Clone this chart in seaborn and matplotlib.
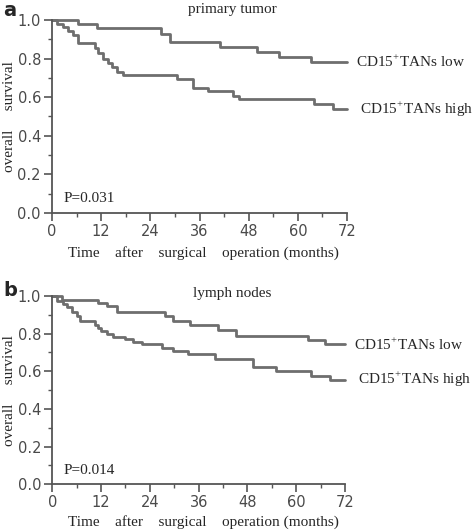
import numpy as np
import pandas as pd
import seaborn as sns
import matplotlib.pyplot as plt
from matplotlib.ticker import MultipleLocator

# step times (months) and survival after each step
a_low_t = [0, 6.4, 11.1, 26.7, 28.8, 41.0, 50.1, 55.4, 63.2, 72]
a_low_s = [1.0, 0.98, 0.957, 0.93, 0.888, 0.862, 0.836, 0.81, 0.784, 0.784]
a_high_t = [0, 1.1, 2.8, 4.0, 5.2, 6.4, 10.5, 11.3, 12.5, 13.7, 14.6, 15.8, 17.4,
            30.4, 34.4, 38.0, 44.2, 45.6, 64.0, 68.5, 72]
a_high_s = [1.0, 0.98, 0.965, 0.945, 0.922, 0.879, 0.853, 0.83, 0.80, 0.775, 0.755,
            0.733, 0.717, 0.693, 0.65, 0.632, 0.605, 0.59, 0.565, 0.539, 0.539]

b_low_t = [0, 2.3, 11.3, 13.4, 15.8, 27.7, 29.7, 33.8, 40.8, 45.3, 62.9, 67.0, 72]
b_low_s = [1.0, 0.978, 0.963, 0.945, 0.915, 0.892, 0.866, 0.845, 0.822, 0.787,
           0.764, 0.744, 0.744]
b_high_t = [0, 1.1, 2.7, 3.5, 4.8, 6.0, 6.8, 10.5, 11.3, 12.1, 13.4, 15.0, 17.9,
            19.9, 22.0, 26.9, 29.7, 33.4, 40.0, 49.4, 55.1, 63.7, 68.2, 72]
b_high_s = [1.0, 0.975, 0.958, 0.94, 0.915, 0.892, 0.866, 0.848, 0.83, 0.812, 0.796,
            0.782, 0.77, 0.757, 0.743, 0.726, 0.709, 0.69, 0.663, 0.625, 0.60,
            0.576, 0.556, 0.556]

x_ticks = [0, 12, 24, 36, 48, 60, 72]
y_ticks = [0.0, 0.2, 0.4, 0.6, 0.8, 1.0]

panels = [
    ("a", "primary tumor", "P=0.031", a_low_t, a_low_s, a_high_t, a_high_s),
    ("b", "lymph nodes", "P=0.014", b_low_t, b_low_s, b_high_t, b_high_s),
]

sns.set_style("ticks")
plt.rcParams["font.family"] = ["DejaVu Sans"]

fig = plt.figure(figsize=(4.72, 5.32), dpi=100)
W, H = 472, 532
# axes boxes in pixels: left, top, right, bottom
boxes = [(52, 20, 347, 213), (52.3, 296, 345, 484.3)]
title_y = [10, 294]
letter_y = [10, 290]
xlabel_y = [253, 522]

line_col = "#6e6e6e"
axis_col = "#555555"
serif = "Liberation Serif"

for i, ((letter, title, pval, lt, ls, ht, hs), (x0, y0, x1, y1)) in enumerate(zip(panels, boxes)):
    ax = fig.add_axes([x0 / W, 1 - y1 / H, (x1 - x0) / W, (y1 - y0) / H])
    df = pd.concat([
        pd.DataFrame({"t": lt, "s": ls, "g": "low"}),
        pd.DataFrame({"t": ht, "s": hs, "g": "high"}),
    ])
    sns.lineplot(data=df, x="t", y="s", hue="g", palette=[line_col, line_col],
                 drawstyle="steps-post", estimator=None, legend=False,
                 linewidth=2.0, ax=ax, clip_on=False)
    ax.set_xticks(x_ticks)
    ax.set_xticklabels([str(v) for v in x_ticks])
    ax.set_yticks(y_ticks)
    ax.set_yticklabels([f"{v:.1f}" for v in y_ticks])
    ax.xaxis.set_minor_locator(MultipleLocator(6))
    ax.yaxis.set_minor_locator(MultipleLocator(0.1))
    ax.set_xlim(0, 72)
    ax.set_ylim(0, 1.0)
    ax.tick_params(which="major", length=6, width=1.2, color=axis_col,
                   labelcolor="#4a4a4a", labelsize=10.5, pad=2)
    ax.tick_params(which="minor", length=3, width=1.0, color=axis_col)
    for side in ["top", "right"]:
        ax.spines[side].set_visible(False)
    for side in ["left", "bottom"]:
        ax.spines[side].set_color(axis_col)
        ax.spines[side].set_linewidth(1.3)
    ax.set_xlabel("")
    ax.set_ylabel("")

    fig.text(232 / W, 1 - title_y[i] / H, title, ha="center", va="center",
             family=serif, fontsize=11)
    ax.text(0.04, 0.075, pval, transform=ax.transAxes, ha="left", va="center",
            family=serif, fontsize=11)
    ax.text(1.03, ls[-1], r"CD15$^{\mathregular{+}}$TANs low",
            transform=ax.get_yaxis_transform(), ha="left", va="center",
            family=serif, fontsize=11)
    ax.text(1.045, hs[-1], r"CD15$^{\mathregular{+}}$TANs high",
            transform=ax.get_yaxis_transform(), ha="left", va="center",
            family=serif, fontsize=11)
    fig.text(10 / W, 1 - (y0 + y1) / 2 / H, "overall     survival", rotation=90,
             ha="center", va="center", family=serif, fontsize=11)
    fig.text(203 / W, 1 - xlabel_y[i] / H,
             "Time    after    surgical    operation (months)",
             ha="center", va="center", family=serif, fontsize=11)
    fig.text(3 / W, 1 - letter_y[i] / H, letter, ha="left", va="center",
             fontsize=14, fontweight="bold")

fig.savefig("out.png", dpi=100)
